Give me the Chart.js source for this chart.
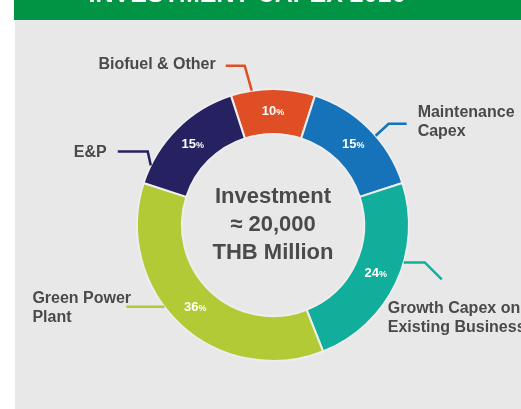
<!DOCTYPE html>
<html><head><meta charset="utf-8">
<script src="https://cdn.jsdelivr.net/npm/chart.js@4"></script>
<style>html,body{margin:0;padding:0;background:#fff;}#wrap{width:521px;height:409px;position:relative;}</style>
</head><body><div id="wrap"><canvas id="c" width="521" height="409"></canvas></div>
<script>
const title = "INVESTMENT CAPEX 2016";
const categories = ["Biofuel & Other", "Maintenance Capex", "Growth Capex on Existing Business", "Green Power Plant", "E&P"];
const labelLines = [["Biofuel & Other"], ["Maintenance", "Capex"], ["Growth Capex on", "Existing Business"], ["Green Power", "Plant"], ["E&P"]];
const shares = [10, 15, 24, 36, 15];
const colors = ["#E04E26", "#1673BA", "#12AE9C", "#B2CA36", "#262262"];
const centerLines = ["Investment", "\u2248 20,000", "THB Million"];

const FONT = "'Liberation Sans', Arial, sans-serif";
const TEXT = "#4a4a4a";

// callout layout: anchor angle (deg from top, clockwise) on the outer edge, leader offsets, text offset
const callouts = [
  {ang: -9,  pts: [[-7,-25],[-26,-25]], text: [-36,-26], align: "right"},
  {ang: 49,  pts: [[13,-12],[31,-12]],  text: [42,-23],  align: "left"},
  {ang: 106, pts: [[21,0],[38,17]],     text: [-16,46],  align: "left"},
  {ang: 233, pts: [[-38,0]],            text: [-132,-8], align: "left"},
  {ang: -64, pts: [[-3,-14],[-33,-14]], text: [-44,-13], align: "right"}
];

const bgPlugin = {
  id: 'bg',
  beforeDraw(chart) {
    const ctx = chart.ctx;
    ctx.save();
    ctx.fillStyle = "#ffffff"; ctx.fillRect(0,0,521,409);
    ctx.fillStyle = "#E8E8E8"; ctx.fillRect(15,20,506,389);
    ctx.fillStyle = "#009444"; ctx.fillRect(14,0,507,20);
    ctx.fillStyle = "#ffffff"; ctx.font = "bold 25px " + FONT;
    ctx.textAlign = "center"; ctx.textBaseline = "alphabetic";
    ctx.fillText(title, 247, 2);
    ctx.restore();
  }
};

const labelPlugin = {
  id: 'lbls',
  afterDatasetsDraw(chart) {
    const ctx = chart.ctx;
    const meta = chart.getDatasetMeta(0);
    ctx.save();
    meta.data.forEach((arc, i) => {
      const mid = (arc.startAngle + arc.endAngle) / 2;
      const rMid = (arc.innerRadius + arc.outerRadius) / 2;
      const px = arc.x + Math.cos(mid) * rMid;
      const py = arc.y + Math.sin(mid) * rMid;
      // percentage label
      const num = String(shares[i]);
      ctx.fillStyle = "#ffffff";
      ctx.textBaseline = "middle";
      ctx.font = "bold 13px " + FONT;
      const w1 = ctx.measureText(num).width;
      ctx.font = "bold 9px " + FONT;
      const w2 = ctx.measureText("%").width;
      const x0 = px - (w1 + w2) / 2;
      ctx.textAlign = "left";
      ctx.font = "bold 13px " + FONT;
      ctx.fillText(num, x0, py);
      ctx.font = "bold 9px " + FONT;
      ctx.fillText("%", x0 + w1, py + 1);

      // callout line from the outer edge
      const c = callouts[i];
      const a = (c.ang - 90) * Math.PI / 180;
      const sx = arc.x + Math.cos(a) * arc.outerRadius;
      const sy = arc.y + Math.sin(a) * arc.outerRadius;
      ctx.strokeStyle = colors[i];
      ctx.lineWidth = 2.5;
      ctx.lineJoin = "miter";
      ctx.beginPath();
      ctx.moveTo(sx, sy);
      c.pts.forEach(p => ctx.lineTo(sx + p[0], sy + p[1]));
      ctx.stroke();
      // text
      ctx.fillStyle = TEXT;
      ctx.font = "bold 16px " + FONT;
      ctx.textBaseline = "middle";
      ctx.textAlign = c.align;
      const tx = sx + c.text[0], ty = sy + c.text[1];
      labelLines[i].forEach((ln, k) => ctx.fillText(ln, tx, ty + k * 19));
    });
    // center text
    ctx.fillStyle = TEXT;
    ctx.font = "bold 22px " + FONT;
    ctx.textAlign = "center";
    ctx.textBaseline = "middle";
    const cx = meta.data[0].x, cy = meta.data[0].y;
    centerLines.forEach((ln, k) => ctx.fillText(ln, cx, cy - 28 + k * 28));
    ctx.restore();
  }
};

new Chart(document.getElementById('c'), {
  type: 'doughnut',
  data: {
    labels: categories,
    datasets: [{
      data: shares,
      backgroundColor: colors,
      borderColor: "#EEEEEE",
      borderWidth: 2,
      hoverOffset: 0
    }]
  },
  options: {
    responsive: false,
    animation: false,
    rotation: -18,
    cutout: "67%",
    layout: {padding: {left: 136, right: 111, top: 88, bottom: 47}},
    plugins: {legend: {display: false}, tooltip: {enabled: false}}
  },
  plugins: [bgPlugin, labelPlugin]
});
</script>
</body></html>
